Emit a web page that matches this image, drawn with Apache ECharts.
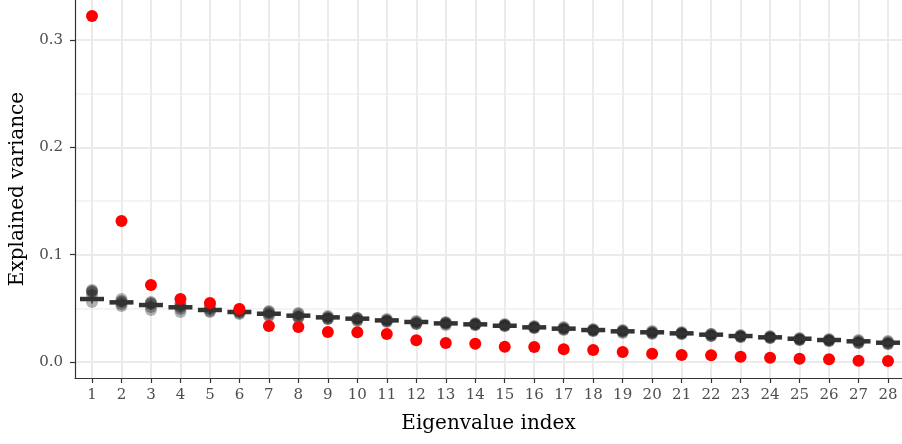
<!DOCTYPE html>
<html>
<head>
<meta charset="utf-8">
<script src="https://cdn.jsdelivr.net/npm/echarts@6/dist/echarts.min.js"></script>
<style>
  html, body { margin: 0; padding: 0; background: #ffffff; }
  #chart { width: 902px; height: 444px; }
</style>
</head>
<body>
<div id="chart"></div>
<script>
// Eigenvalue index (x positions)
const indices = [1, 2, 3, 4, 5, 6, 7, 8, 9, 10, 11, 12, 13, 14, 15, 16, 17, 18, 19, 20, 21, 22, 23, 24, 25, 26, 27, 28];

// Explained variance of the observed eigenvalues
const observed = [0.3225, 0.1314, 0.0718, 0.0587, 0.0550, 0.0494, 0.0336, 0.0326, 0.0280, 0.0277,
                  0.0261, 0.0202, 0.0177, 0.0171, 0.0143, 0.0140, 0.0118, 0.0112, 0.0093, 0.0078,
                  0.0065, 0.0062, 0.0050, 0.0040, 0.0031, 0.0025, 0.0012, 0.0009];

// Explained variance from five permuted data sets
const perm1 = [0.0671, 0.0587, 0.0559, 0.0550, 0.0541, 0.0494, 0.0475, 0.0457, 0.0429, 0.0410,
               0.0401, 0.0382, 0.0373, 0.0363, 0.0354, 0.0336, 0.0326, 0.0308, 0.0298, 0.0289,
               0.0280, 0.0261, 0.0252, 0.0242, 0.0224, 0.0214, 0.0205, 0.0196];
const perm2 = [0.0662, 0.0568, 0.0550, 0.0531, 0.0513, 0.0475, 0.0466, 0.0447, 0.0419, 0.0410,
               0.0391, 0.0373, 0.0363, 0.0354, 0.0345, 0.0326, 0.0317, 0.0298, 0.0289, 0.0280,
               0.0270, 0.0261, 0.0242, 0.0233, 0.0214, 0.0205, 0.0196, 0.0186];
const perm3 = [0.0652, 0.0559, 0.0541, 0.0513, 0.0494, 0.0466, 0.0457, 0.0429, 0.0410, 0.0401,
               0.0382, 0.0363, 0.0363, 0.0354, 0.0345, 0.0326, 0.0308, 0.0298, 0.0289, 0.0270,
               0.0270, 0.0252, 0.0242, 0.0233, 0.0214, 0.0205, 0.0186, 0.0177];
const perm4 = [0.0624, 0.0541, 0.0513, 0.0494, 0.0475, 0.0457, 0.0438, 0.0419, 0.0401, 0.0391,
               0.0382, 0.0354, 0.0354, 0.0345, 0.0336, 0.0317, 0.0308, 0.0289, 0.0280, 0.0270,
               0.0261, 0.0242, 0.0233, 0.0224, 0.0205, 0.0196, 0.0177, 0.0168];
const perm5 = [0.0559, 0.0522, 0.0485, 0.0466, 0.0466, 0.0447, 0.0429, 0.0410, 0.0401, 0.0382,
               0.0373, 0.0354, 0.0345, 0.0345, 0.0336, 0.0317, 0.0298, 0.0289, 0.0270, 0.0261,
               0.0261, 0.0242, 0.0233, 0.0224, 0.0205, 0.0196, 0.0177, 0.0168];

// Mean explained variance over the permutations
const nullMean = [0.0587, 0.0556, 0.0531, 0.0510, 0.0485, 0.0466, 0.0450, 0.0432, 0.0416, 0.0404,
                  0.0388, 0.0373, 0.0360, 0.0351, 0.0338, 0.0323, 0.0311, 0.0298, 0.0286, 0.0277,
                  0.0267, 0.0255, 0.0242, 0.0230, 0.0217, 0.0205, 0.0193, 0.0180];

// Axis ticks
const xTicks = indices;
const yTicks = [0, 0.1, 0.2, 0.3];
const yMinorTicks = [0.05, 0.15, 0.25];

const FONT = 'DejaVu Serif';
const pts = arr => indices.map((x, i) => [x, arr[i]]);

const permSeries = [perm1, perm2, perm3, perm4, perm5].map(arr => ({
  type: 'scatter',
  data: pts(arr),
  symbol: 'circle',
  symbolSize: 12,
  itemStyle: { color: 'rgba(0,0,0,0.3)', opacity: 1 },
  z: 2,
  silent: true
}));

const chart = echarts.init(document.getElementById('chart'), null, { renderer: 'canvas' });
chart.setOption({
  backgroundColor: '#ffffff',
  animation: false,
  grid: { left: 75, right: 0, top: 0, bottom: 66, containLabel: false },
  xAxis: {
    type: 'value',
    min: 0.4233,
    max: 28.475,
    name: 'Eigenvalue index',
    nameLocation: 'middle',
    nameGap: 36,
    nameTextStyle: { fontFamily: FONT, fontSize: 20, color: '#000000' },
    axisLine: { show: true, onZero: false, lineStyle: { color: '#333333', width: 1.2 } },
    axisTick: { show: true, length: 5, customValues: xTicks, lineStyle: { color: '#333333', width: 1.2 } },
    axisLabel: { customValues: xTicks, margin: 10, fontFamily: FONT, fontSize: 15, color: '#4d4d4d' },
    splitLine: { show: true, lineStyle: { color: '#ebebeb', width: 2 } }
  },
  yAxis: [{
    type: 'value',
    min: -0.0149,
    max: 0.3374,
    name: 'Explained variance',
    nameLocation: 'middle',
    nameGap: 41,
    nameTextStyle: { fontFamily: FONT, fontSize: 20, color: '#000000' },
    axisLine: { show: true, onZero: false, lineStyle: { color: '#333333', width: 1.2 } },
    axisTick: { show: true, length: 5, customValues: yTicks, lineStyle: { color: '#333333', width: 1.2 } },
    axisLabel: { customValues: yTicks, margin: 12, fontFamily: FONT, fontSize: 15, color: '#4d4d4d',
                 formatter: v => v.toFixed(1) },
    splitLine: { show: true, lineStyle: { color: '#ebebeb', width: 2 } }
  }, {
    type: 'value',
    min: -0.0149,
    max: 0.3374,
    position: 'left',
    axisLine: { show: false },
    axisTick: { show: false, customValues: yMinorTicks },
    axisLabel: { show: false, customValues: yMinorTicks },
    splitLine: { show: true, lineStyle: { color: '#f0f0f0', width: 1.5 } },
    z: 0
  }],
  series: [
    ...permSeries,
    {
      // mean of permutations: horizontal bar
      type: 'scatter',
      data: pts(nullMean),
      symbol: 'rect',
      symbolSize: [24, 4.5],
      itemStyle: { color: '#333333', opacity: 1 },
      z: 3,
      silent: true
    },
    {
      type: 'scatter',
      data: pts(nullMean),
      symbol: 'rect',
      symbolSize: [1.5, 9],
      itemStyle: { color: '#333333', opacity: 1 },
      z: 3,
      silent: true
    },
    {
      type: 'scatter',
      data: pts(observed),
      symbol: 'circle',
      symbolSize: 12,
      itemStyle: { color: '#ff0000', opacity: 1 },
      z: 4,
      silent: true
    }
  ]
});
</script>
</body>
</html>
